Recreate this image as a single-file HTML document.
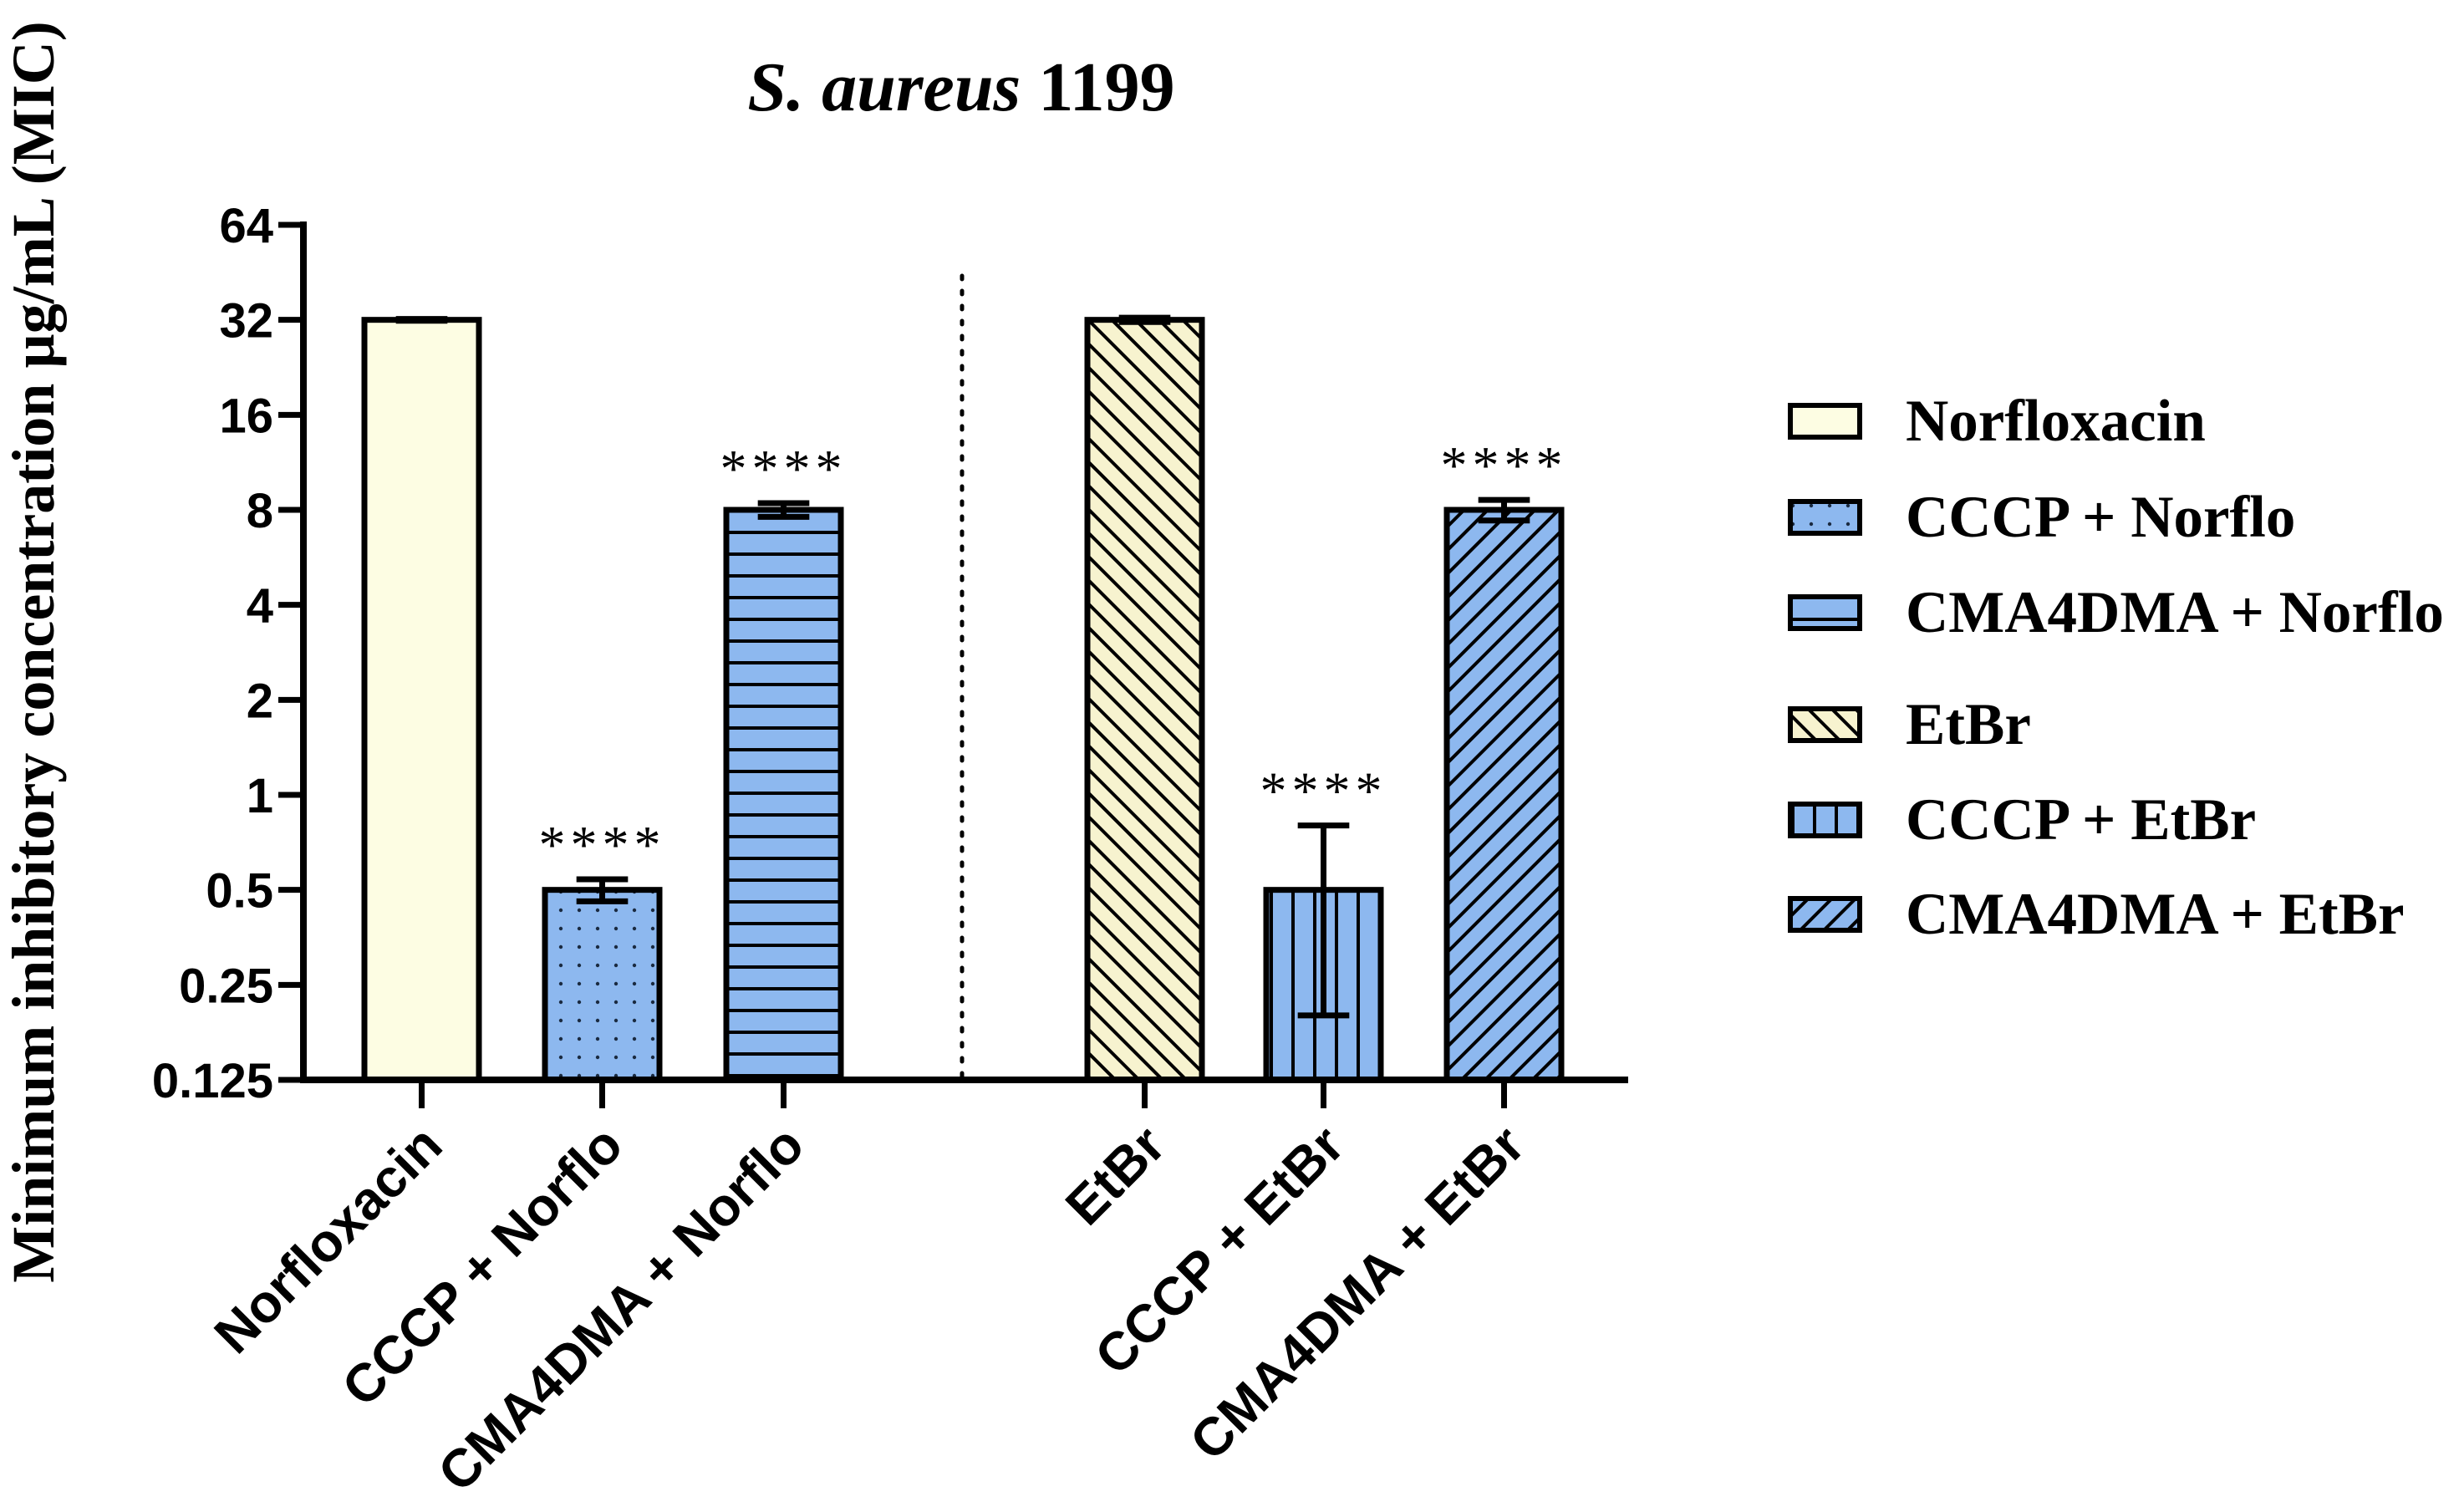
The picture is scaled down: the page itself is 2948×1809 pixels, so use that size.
<!DOCTYPE html>
<html><head><meta charset="utf-8"><style>
html,body{margin:0;padding:0;background:#fff;}
svg{display:block;}
.tick{font-family:"Liberation Sans",sans-serif;font-weight:bold;font-size:58px;}
.xl{font-family:"Liberation Sans",sans-serif;font-weight:bold;font-size:64px;}
.serif{font-family:"Liberation Serif",serif;font-weight:bold;}
</style></head><body>
<svg id="chart" width="2948" height="1809" viewBox="0 0 2948 1809" xmlns="http://www.w3.org/2000/svg">
<defs>
<pattern id="p-dots" width="22" height="22" patternUnits="userSpaceOnUse"><rect width="22" height="22" fill="#8db8ef"/><circle cx="11" cy="11" r="2.2" fill="#1a2a40"/></pattern>
<pattern id="p-hlines" width="26" height="26" patternUnits="userSpaceOnUse"><rect width="26" height="26" fill="#8db8ef"/><rect y="11" width="26" height="4" fill="#000"/></pattern>
<pattern id="p-vlines" width="26" height="26" patternUnits="userSpaceOnUse"><rect width="26" height="26" fill="#8db8ef"/><rect x="11" width="4" height="26" fill="#000"/></pattern>
<pattern id="p-back" width="20" height="20" patternUnits="userSpaceOnUse" patternTransform="rotate(-45)"><rect width="20" height="20" fill="#f7f3cf"/><rect x="8" width="4" height="20" fill="#000"/></pattern>
<pattern id="p-fwd" width="20" height="20" patternUnits="userSpaceOnUse" patternTransform="rotate(45)"><rect width="20" height="20" fill="#8db8ef"/><rect x="8" width="4" height="20" fill="#000"/></pattern>
</defs>
<text class="serif" x="1150" y="132" font-size="84" text-anchor="middle"><tspan font-style="italic">S. aureus</tspan> 1199</text>
<text class="serif" transform="translate(64,780) rotate(-90)" font-size="72" text-anchor="middle">Minimum inhibitory concentration µg/mL (MIC)</text>
<g id="plot"></g>
<g id="legend"></g>
</svg>
<script>
const categories = ["Norfloxacin","CCCP + Norflo","CMA4DMA + Norflo","EtBr","CCCP + EtBr","CMA4DMA + EtBr"];
const values = [32, 0.5, 8, 32, 0.5, 8];
const errUp = [0.2, 0.04, 0.4, 0.5, 0.3, 0.6];
const errDown = [0.2, 0.04, 0.4, 0.5, 0.3, 0.6];
const stars = ["", "****", "****", "", "****", "****"];
const fills = ["#fdfde3","url(#p-dots)","url(#p-hlines)","url(#p-back)","url(#p-vlines)","url(#p-fwd)"];
const yTicks = [0.125,0.25,0.5,1,2,4,8,16,32,64];
const yTickLabels = ["0.125","0.25","0.5","1","2","4","8","16","32","64"];

const NS="http://www.w3.org/2000/svg";
const X0=363, YTOP=269, YBOT=1292, XEND=1948;
function y(v){return YBOT-(Math.log2(v)-Math.log2(0.125))/(Math.log2(64)-Math.log2(0.125))*(YBOT-YTOP);}
const barLeft=[436,652,869,1301,1515,1731];
const BW=137;
function xc(i){return barLeft[i]+BW/2;}
function mk(tag,attrs,parent){const e=document.createElementNS(NS,tag);for(const k in attrs)e.setAttribute(k,attrs[k]);parent.appendChild(e);return e;}
const plot=document.getElementById('plot');

categories.forEach((c,i)=>{
  const top=y(values[i]);
  const r=mk('rect',{x:barLeft[i],y:top,width:BW,height:YBOT-top,fill:fills[i],stroke:'#000','stroke-width':7},plot);
  
  
  const hi=y(values[i]+errUp[i]), lo=y(Math.max(values[i]-errDown[i],0.126));
  const cw=BW*0.45;
  const eb=mk('path',{d:`M${xc(i)},${lo}V${hi}M${xc(i)-cw/2},${hi}H${xc(i)+cw/2}M${xc(i)-cw/2},${lo}H${xc(i)+cw/2}`,stroke:'#000','stroke-width':7,fill:'none'},plot);
  
  
  if(stars[i]){
    const s=mk('text',{x:xc(i),y:hi-20,'text-anchor':'middle','font-size':64,'font-family':'Liberation Serif, serif','letter-spacing':'6'},plot);
    s.textContent=stars[i];
    
    
  }
  const t=mk('line',{x1:xc(i),x2:xc(i),y1:YBOT,y2:YBOT+34,stroke:'#000','stroke-width':7},plot);
  
  
  const lx=xc(i)+28, ly=YBOT+82;
  const lab=mk('text',{class:'xl','text-anchor':'end',transform:`translate(${lx},${ly}) rotate(-45)`},plot);
  lab.textContent=c;
  
  
});

const ya=mk('line',{x1:X0,x2:X0,y1:YTOP-4,y2:YBOT+4,stroke:'#000','stroke-width':8},plot);


const xa=mk('line',{x1:X0-4,x2:XEND,y1:YBOT,y2:YBOT,stroke:'#000','stroke-width':8},plot);


yTicks.forEach((v,k)=>{
  const tl=mk('line',{x1:X0-30,x2:X0,y1:y(v),y2:y(v),stroke:'#000','stroke-width':7},plot);
  
  
  const tt=mk('text',{x:X0-36,y:y(v)+21,class:'tick','text-anchor':'end'},plot);
  tt.textContent=yTickLabels[k];
  
  
});
const dl=mk('line',{x1:1151,x2:1151,y1:330,y2:YBOT+8,stroke:'#000','stroke-width':5,'stroke-dasharray':'4 14','stroke-linecap':'round'},plot);



const legend=document.getElementById('legend');
const legY=[504,619,733,867,981,1094];
categories.forEach((c,i)=>{
  const g=mk('g',{},legend);
  
  
  mk('rect',{x:2142,y:legY[i]-19,width:83,height:38,fill:fills[i],stroke:'#000','stroke-width':6},g);
  const t=mk('text',{x:2280,y:legY[i]+23,class:'serif','font-size':71},g);
  t.textContent=c;
});
</script>
</body></html>
